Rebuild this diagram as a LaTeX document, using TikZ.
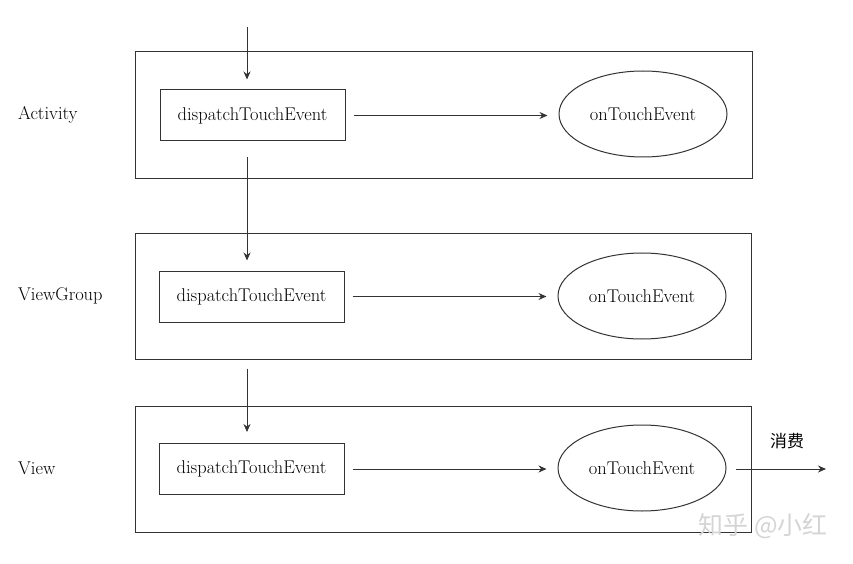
\documentclass[tikz,border=0pt]{standalone}
\usepackage{fontspec}
\newfontfamily\cjk{Noto Sans CJK SC}
\usetikzlibrary{shapes.geometric,arrows.meta}
\definecolor{linec}{HTML}{333333}
\definecolor{wm}{HTML}{D4D4D4}
\begin{document}
\begin{tikzpicture}[x=1bp,y=-1bp,
  every node/.style={font=\fontsize{18.5}{22}\selectfont},
  layer/.style={draw=linec,line width=1bp,minimum width=616bp,minimum height=126bp,inner sep=0pt},
  dbox/.style={draw=linec,line width=1bp,minimum width=185bp,minimum height=51bp,inner sep=0pt},
  oval/.style={ellipse,draw=linec,line width=1bp,minimum width=168bp,minimum height=86bp,inner sep=0pt},
  lab/.style={anchor=west,inner sep=0pt},
  arr/.style={draw=linec,line width=1bp,-{Stealth[length=8bp,width=7bp]}}]
\useasboundingbox (0,0) rectangle (853,564);
% layers
\node[layer] (L1) at (444,115) {};
\node[layer] (L2) at (443.5,296.5) {};
\node[layer] (L3) at (443.5,469) {};
% labels
\node[lab] (t1) at (18,115) {Activity};
\node[lab] (t2) at (18,296) {ViewGroup};
\node[lab] (t3) at (18,468) {View};
% dispatch boxes
\node[dbox] (d1) at (252.5,115.5) {dispatchTouchEvent};
\node[dbox] (d2) at (251.5,296.5) {dispatchTouchEvent};
\node[dbox] (d3) at (251.5,469) {dispatchTouchEvent};
% ellipses
\node[oval] (e1) at (643,114) {onTouchEvent};
\node[oval] (e2) at (642,296) {onTouchEvent};
\node[oval] (e3) at (642,468) {onTouchEvent};
% coordinates
\coordinate (in) at (247,27);
\coordinate (out) at (826,469);
% vertical arrows
\draw[arr,shorten >=10bp] (in) -- (in |- d1.north);
\draw[arr,shorten <=16bp,shorten >=10bp] (in |- d1.south) -- (in |- d2.north);
\draw[arr,shorten <=46bp,shorten >=11bp] (in |- d2.south) -- (in |- d3.north);
% horizontal arrows
\draw[arr,shorten <=8bp,shorten >=11bp] (d1.east) -- (e1.west |- d1.east);
\draw[arr,shorten <=8bp,shorten >=11bp] (d2.east) -- (e2.west |- d2.east);
\draw[arr,shorten <=8bp,shorten >=11bp] (d3.east) -- (e3.west |- d3.east);
\draw[arr,shorten <=9bp] (e3.east |- out) -- (out);
\node[font=\cjk\fontsize{17}{20}\selectfont] (xf) at (787,441) {消费};
% watermark
\node[font=\cjk\fontsize{25}{28}\selectfont,text=wm] (wmk) at (763,526) {知乎 @小红};
\end{tikzpicture}
\end{document}
